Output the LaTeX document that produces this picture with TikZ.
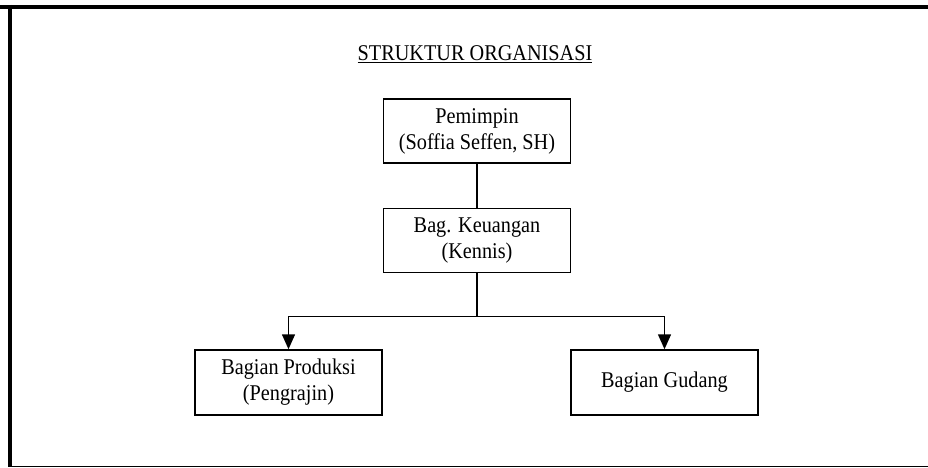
\documentclass[tikz,border=0pt]{standalone}
\usepackage{fontspec}
\setmainfont[FakeStretch=0.9]{Liberation Serif}
\usetikzlibrary{arrows.meta,positioning}
\tikzstyle{unit}=[
	rectangle,
	draw=black,
	line width=1.5pt,
	align=center,
	font=\fontsize{22.5}{26}\selectfont,
	minimum width=187pt,
	minimum height=64pt,
	inner sep=0pt
]
\tikzstyle{hierarchy}=[
	-{Triangle[length=15pt,width=13pt]},
	line width=1.5pt
]
\begin{document}
\begin{tikzpicture}[x=1pt,y=1pt]
\useasboundingbox (0,0) rectangle (928,-468);
% frame
\draw[line width=4pt] (0,-7) -- (928,-7);
\draw[line width=4pt] (10,-5) -- (10,-467);
\draw[line width=1.2pt] (8,-466.5) -- (928,-466.5);
\node [font=\fontsize{22.5}{26}\selectfont, anchor=base] (title) at (475,-61) {\underline{STRUKTUR ORGANISASI}};
\node [unit] (Pemimpin) at (477,-131) {Pemimpin\\(Soffia Seffen, SH)};
\node [unit] (Keuangan) [below=44pt of Pemimpin] {Bag. Keuangan\\(Kennis)};
\node [unit, minimum height=65pt] (Produksi) [below left=76pt and 0pt of Keuangan] {Bagian Produksi\\(Pengrajin)};
\node [unit, minimum height=65pt] (Gudang) [below right=76pt and -1pt of Keuangan] {Bagian Gudang};
\coordinate [below=43pt of Keuangan.south] (branch);
\draw [line width=1.5pt] (Pemimpin) -- (Keuangan);
\draw [line width=1.5pt] (Keuangan) -- (branch);
\draw [hierarchy] (branch) -| (Produksi);
\draw [hierarchy] (branch) -| (Gudang);
\end{tikzpicture}
\end{document}
